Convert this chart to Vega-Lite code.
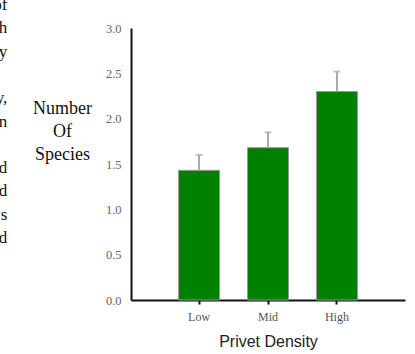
{
  "$schema": "https://vega.github.io/schema/vega-lite/v6.json",
  "autosize": "none",
  "width": 274,
  "height": 272,
  "padding": {"left": 131, "top": 28, "right": 10, "bottom": 54},
  "background": "white",
  "config": {"view": {"stroke": null}},
  "title": {
    "text": ["of", "h", "y", "\u200b", "y,", "n", "\u200b", "d", "d", "s", "d"],
    "orient": "left",
    "anchor": "end",
    "frame": "group",
    "angle": 0,
    "align": "right",
    "baseline": "top",
    "font": "Liberation Serif",
    "fontSize": 17,
    "fontWeight": "normal",
    "color": "#111",
    "lineHeight": 23.3,
    "dx": 0,
    "dy": -31,
    "offset": 11
  },
  "data": {
    "values": [
      {"density": "Low", "species": 1.43, "upper": 1.60},
      {"density": "Mid", "species": 1.68, "upper": 1.85},
      {"density": "High", "species": 2.30, "upper": 2.52}
    ]
  },
  "encoding": {
    "x": {
      "field": "density",
      "type": "nominal",
      "sort": ["Low", "Mid", "High"],
      "scale": {"paddingInner": 0.406, "paddingOuter": 0.69},
      "axis": {
        "title": "Privet Density",
        "titleFont": "Liberation Sans",
        "titleFontSize": 16,
        "titleFontWeight": "normal",
        "titleColor": "#222",
        "titlePadding": 11,
        "labelAngle": 0,
        "labelFont": "Liberation Serif",
        "labelFontSize": 12,
        "labelColor": "#555",
        "labelPadding": 7,
        "domainColor": "#111",
        "domainWidth": 2,
        "tickColor": "#111",
        "tickWidth": 2,
        "tickSize": 4
      }
    }
  },
  "layer": [
    {
      "mark": {"type": "bar", "color": "#008000", "stroke": "#999", "strokeWidth": 1},
      "encoding": {
        "y": {
          "field": "species",
          "type": "quantitative",
          "scale": {"domain": [0, 3], "nice": false},
          "axis": {
            "title": ["Number", "Of", "Species"],
            "titleAngle": 0,
            "titleAlign": "center",
            "titleBaseline": "alphabetic",
            "titleFont": "Liberation Serif",
            "titleFontSize": 18,
            "titleFontWeight": "normal",
            "titleColor": "#111",
            "titleLineHeight": 23,
            "titleX": -69,
            "titleY": 85,
            "values": [0, 0.5, 1, 1.5, 2, 2.5, 3],
            "format": ".1f",
            "grid": false,
            "ticks": false,
            "labelFont": "Liberation Serif",
            "labelFontSize": 12.5,
            "labelColor": "#666",
            "labelPadding": 10,
            "domainColor": "#111",
            "domainWidth": 2
          }
        }
      }
    },
    {
      "mark": {"type": "rule", "color": "#aaa", "strokeWidth": 2},
      "encoding": {
        "y": {"field": "species", "type": "quantitative"},
        "y2": {"field": "upper"}
      }
    },
    {
      "mark": {"type": "tick", "color": "#aaa", "thickness": 2, "size": 7, "orient": "horizontal"},
      "encoding": {
        "y": {"field": "upper", "type": "quantitative"}
      }
    }
  ]
}
